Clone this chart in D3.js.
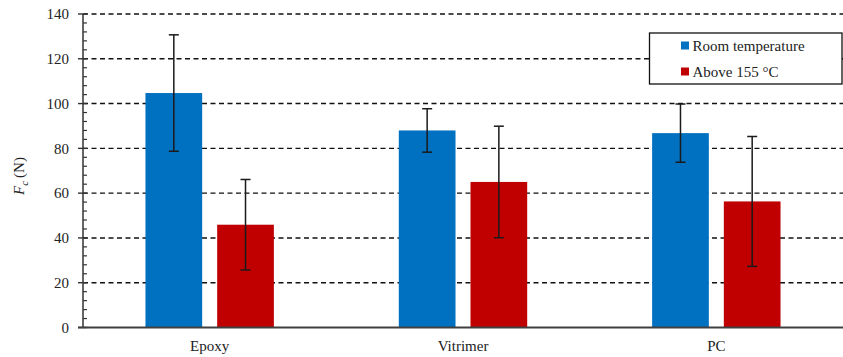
<!DOCTYPE html>
<html>
<head>
<meta charset="utf-8">
<script src="https://cdn.jsdelivr.net/npm/d3@7"></script>
<style>
  html, body { margin: 0; padding: 0; background: #fff; }
  svg { display: block; }
  svg text { font-family: "Liberation Serif", "DejaVu Serif", serif; }
</style>
</head>
<body>
<svg id="chart" width="843" height="357"></svg>
<script>
// Materials and the two test conditions
const categories = ["Epoxy", "Vitrimer", "PC"];
const seriesNames = ["Room temperature", "Above 155 °C"];
const seriesColors = ["#0070c0", "#c00000"];

// Mean force Fc (N) per material
const roomTemp = [104.7, 88.0, 86.8];
const above155 = [45.9, 65.0, 56.3];

// Standard deviation shown by the error bars
const roomTempErr = [26.0, 9.7, 13.0];
const above155Err = [20.2, 24.9, 29.0];

const yTicks = [0, 20, 40, 60, 80, 100, 120, 140];

const FONT = "'Liberation Serif', 'DejaVu Serif', serif";
const svg = d3.select("#chart").attr("font-family", FONT);
const margin = { left: 83, right: 0, top: 14, bottom: 29.5 };
const W = 843, H = 357;

const x = d3.scaleBand().domain(categories).range([margin.left, W - margin.right]);
const y = d3.scaleLinear().domain([0, 140]).range([H - margin.bottom, margin.top]);

const barW = 56.7, barGap = 15;
const inner = d3.scaleOrdinal().domain([0, 1]).range([-(barGap / 2 + barW), barGap / 2]);

const series = [
  { name: seriesNames[0], color: seriesColors[0], values: roomTemp, err: roomTempErr },
  { name: seriesNames[1], color: seriesColors[1], values: above155, err: above155Err }
];

// Dashed horizontal gridlines
svg.append("g")
  .selectAll("line")
  .data(yTicks.filter(d => d > 0))
  .join("line")
  .attr("x1", margin.left).attr("x2", W)
  .attr("y1", d => y(d)).attr("y2", d => y(d))
  .attr("stroke", "#111").attr("stroke-width", 1.4)
  .attr("stroke-dasharray", "5,3.5");

// Bars
series.forEach((s, si) => {
  svg.append("g")
    .selectAll("rect")
    .data(categories)
    .join("rect")
    .attr("x", d => x(d) + x.bandwidth() / 2 + inner(si))
    .attr("width", barW)
    .attr("y", (d, i) => y(s.values[i]))
    .attr("height", (d, i) => y(0) - y(s.values[i]))
    .attr("fill", s.color);
});

// Error bars
series.forEach((s, si) => {
  const g = svg.append("g").attr("stroke", "#1a1a1a").attr("stroke-width", 1.5);
  categories.forEach((c, i) => {
    const cx = x(c) + x.bandwidth() / 2 + inner(si) + barW / 2;
    const hi = y(s.values[i] + s.err[i]);
    const lo = y(s.values[i] - s.err[i]);
    g.append("line").attr("x1", cx).attr("x2", cx).attr("y1", hi).attr("y2", lo);
    g.append("line").attr("x1", cx - 5).attr("x2", cx + 5).attr("y1", hi).attr("y2", hi);
    g.append("line").attr("x1", cx - 5).attr("x2", cx + 5).attr("y1", lo).attr("y2", lo);
  });
});

// Y axis with major labels and minor ticks every 4 N
const yAxisG = svg.append("g");
yAxisG.append("line")
  .attr("x1", margin.left).attr("x2", margin.left)
  .attr("y1", y(140)).attr("y2", y(0))
  .attr("stroke", "#333").attr("stroke-width", 1.5);
yAxisG.selectAll(".minor")
  .data(d3.range(0, 141, 4).filter(v => v % 20 !== 0))
  .join("line")
  .attr("x1", margin.left).attr("x2", margin.left + 4)
  .attr("y1", d => y(d)).attr("y2", d => y(d))
  .attr("stroke", "#333").attr("stroke-width", 1.2);
yAxisG.selectAll(".major")
  .data(yTicks)
  .join("line")
  .attr("x1", margin.left - 5).attr("x2", margin.left + 4)
  .attr("y1", d => y(d)).attr("y2", d => y(d))
  .attr("stroke", "#333").attr("stroke-width", 1.4);
yAxisG.selectAll("text")
  .data(yTicks)
  .join("text")
  .attr("x", 69).attr("y", d => y(d))
  .attr("dy", "0.35em")
  .attr("text-anchor", "end")
  .attr("font-family", FONT)
  .attr("font-size", 15)
  .attr("fill", "#222")
  .text(d => d);

// X baseline and category labels
svg.append("line")
  .attr("x1", margin.left - 5).attr("x2", W)
  .attr("y1", y(0)).attr("y2", y(0))
  .attr("stroke", "#404040").attr("stroke-width", 2);
svg.append("g")
  .selectAll("text")
  .data(categories)
  .join("text")
  .attr("x", d => x(d) + x.bandwidth() / 2)
  .attr("y", 351)
  .attr("text-anchor", "middle")
  .attr("font-family", FONT)
  .attr("font-size", 15)
  .attr("fill", "#222")
  .text(d => d);

// Y axis title: F_c (N)
const yTitle = svg.append("text")
  .attr("transform", "translate(24,176) rotate(-90)")
  .attr("text-anchor", "middle")
  .attr("font-family", FONT)
  .attr("font-size", 15)
  .attr("fill", "#222");
yTitle.append("tspan").attr("font-style", "italic").text("F");
yTitle.append("tspan").attr("font-style", "italic").attr("font-size", 11).attr("dy", 4).text("c");
yTitle.append("tspan").attr("dy", -4).attr("dx", 3).text("(N)");

// Legend
const legend = svg.append("g");
legend.append("rect")
  .attr("x", 649.5).attr("y", 33)
  .attr("width", 192.5).attr("height", 51)
  .attr("fill", "#fff").attr("stroke", "#111").attr("stroke-width", 1.3);
series.forEach((s, i) => {
  const ly = 45.5 + i * 26;
  legend.append("rect")
    .attr("x", 681).attr("y", ly - 4)
    .attr("width", 8).attr("height", 8)
    .attr("fill", s.color);
  legend.append("text")
    .attr("x", 692.5).attr("y", ly + 5.5)
    .attr("font-family", FONT)
    .attr("font-size", 15)
    .attr("fill", "#222")
    .text(s.name);
});
</script>
</body>
</html>
